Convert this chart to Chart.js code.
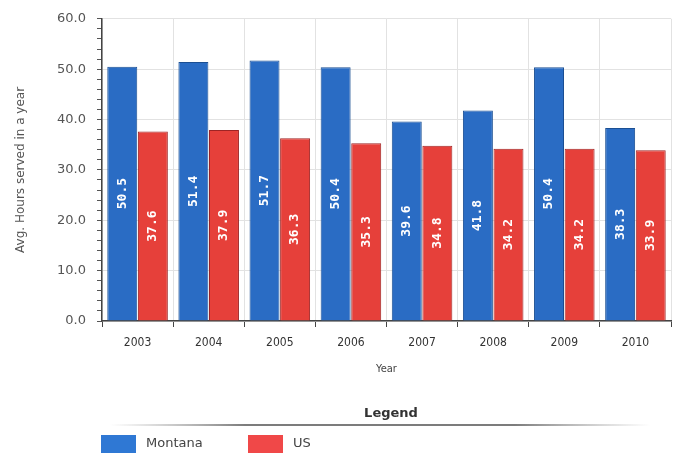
<!DOCTYPE html>
<html>
<head>
<meta charset="utf-8">
<script src="https://cdn.jsdelivr.net/npm/chart.js@4.4.1/dist/chart.umd.min.js"></script>
<style>
  html, body { margin: 0; padding: 0; background: #fff; }
  #wrap { width: 683px; height: 453px; }
</style>
</head>
<body>
<div id="wrap"><canvas id="hoursChart" width="683" height="453"></canvas></div>
<script>
// Average volunteer hours per year
const years = ['2003', '2004', '2005', '2006', '2007', '2008', '2009', '2010'];
const montanaHours = [50.5, 51.4, 51.7, 50.4, 39.6, 41.8, 50.4, 38.3];
const usHours = [37.6, 37.9, 36.3, 35.3, 34.8, 34.2, 34.2, 33.9];
const seriesNames = ['Montana', 'US'];
const yTicks = [0, 10, 20, 30, 40, 50, 60];

const blueFill = '#2a6cc4';
const redFill = '#e6403a';

// Value printed vertically in the middle of each bar
const barLabels = {
    id: 'barLabels',
    afterDatasetsDraw(chart) {
        const ctx = chart.ctx;
        ctx.save();
        ctx.font = 'bold 13px "DejaVu Sans Mono"';
        ctx.fillStyle = '#ffffff';
        ctx.textAlign = 'center';
        ctx.textBaseline = 'middle';
        chart.data.datasets.forEach((ds, i) => {
            chart.getDatasetMeta(i).data.forEach((bar, j) => {
                const midY = (bar.y + bar.base) / 2;
                ctx.save();
                ctx.translate(bar.x, midY);
                ctx.rotate(-Math.PI / 2);
                ctx.fillText(ds.data[j].toFixed(1), 0, 0);
                ctx.restore();
            });
        });
        ctx.restore();
    }
};

// Legend block under the chart: title, rule and colour swatches
const legendBlock = {
    id: 'legendBlock',
    afterDraw(chart) {
        const ctx = chart.ctx;
        ctx.save();
        ctx.font = 'bold 13px "DejaVu Sans"';
        ctx.fillStyle = '#333';
        ctx.textAlign = 'center';
        ctx.textBaseline = 'middle';
        ctx.fillText('Legend', 391, 414);

        const rule = ctx.createLinearGradient(110, 0, 650, 0);
        rule.addColorStop(0, 'rgba(120,120,120,0)');
        rule.addColorStop(0.25, 'rgba(80,80,80,1)');
        rule.addColorStop(0.75, 'rgba(80,80,80,1)');
        rule.addColorStop(1, 'rgba(120,120,120,0)');
        ctx.strokeStyle = rule;
        ctx.lineWidth = 1.5;
        ctx.beginPath();
        ctx.moveTo(110, 425);
        ctx.lineTo(650, 425);
        ctx.stroke();

        const itemX = [101, 248];
        ctx.font = '13px "DejaVu Sans"';
        ctx.textAlign = 'left';
        chart.data.datasets.forEach((ds, i) => {
            ctx.fillStyle = ds.legendColor;
            ctx.fillRect(itemX[i], 435, 35, 18);
            ctx.fillStyle = '#444';
            ctx.fillText(ds.label, itemX[i] + 45, 444);
        });
        ctx.restore();
    }
};

new Chart(document.getElementById('hoursChart'), {
    type: 'bar',
    data: {
        labels: years,
        datasets: [
            {
                label: seriesNames[0],
                data: montanaHours,
                backgroundColor: blueFill,
                borderColor: '#1b4f93',
                borderWidth: 1,
                legendColor: '#2f78d4'
            },
            {
                label: seriesNames[1],
                data: usHours,
                backgroundColor: redFill,
                borderColor: '#9e2424',
                borderWidth: 1,
                legendColor: '#f04848'
            }
        ]
    },
    options: {
        responsive: false,
        animation: false,
        layout: { padding: { top: 16, right: 12, bottom: 77, left: 10 } },
        datasets: {
            bar: { categoryPercentage: 0.86, barPercentage: 0.98 }
        },
        plugins: {
            legend: { display: false },
            tooltip: { enabled: false }
        },
        scales: {
            x: {
                grid: {
                    offset: true,
                    color: '#e2e2e2',
                    tickColor: '#444',
                    tickLength: 6
                },
                border: { color: '#444', width: 1.5 },
                ticks: {
                    color: '#333',
                    font: { family: '"DejaVu Sans Condensed"', size: 12 },
                    padding: 9
                },
                title: {
                    display: true,
                    text: 'Year',
                    color: '#444',
                    font: { family: '"DejaVu Sans Condensed"', size: 11 },
                    padding: { top: 4, bottom: 0 }
                },
                afterFit(scale) { scale.height = 55; }
            },
            y: {
                min: 0,
                max: 60,
                grid: {
                    color: (c) => yTicks.includes(c.tick.value) ? '#e2e2e2' : 'rgba(0,0,0,0)',
                    tickColor: '#555',
                    tickLength: 5
                },
                border: { color: '#444', width: 1.5 },
                ticks: {
                    stepSize: 2,
                    autoSkip: false,
                    color: '#555',
                    font: { family: '"DejaVu Sans"', size: 13 },
                    padding: 11,
                    callback: (v) => yTicks.includes(v) ? v.toFixed(1) : ''
                },
                title: {
                    display: true,
                    text: 'Avg. Hours served in a year',
                    color: '#555',
                    font: { family: '"DejaVu Sans"', size: 12 },
                    padding: { bottom: 2 }
                },
                afterFit(scale) { scale.width = 92; }
            }
        }
    },
    plugins: [barLabels, legendBlock]
});
</script>
</body>
</html>
